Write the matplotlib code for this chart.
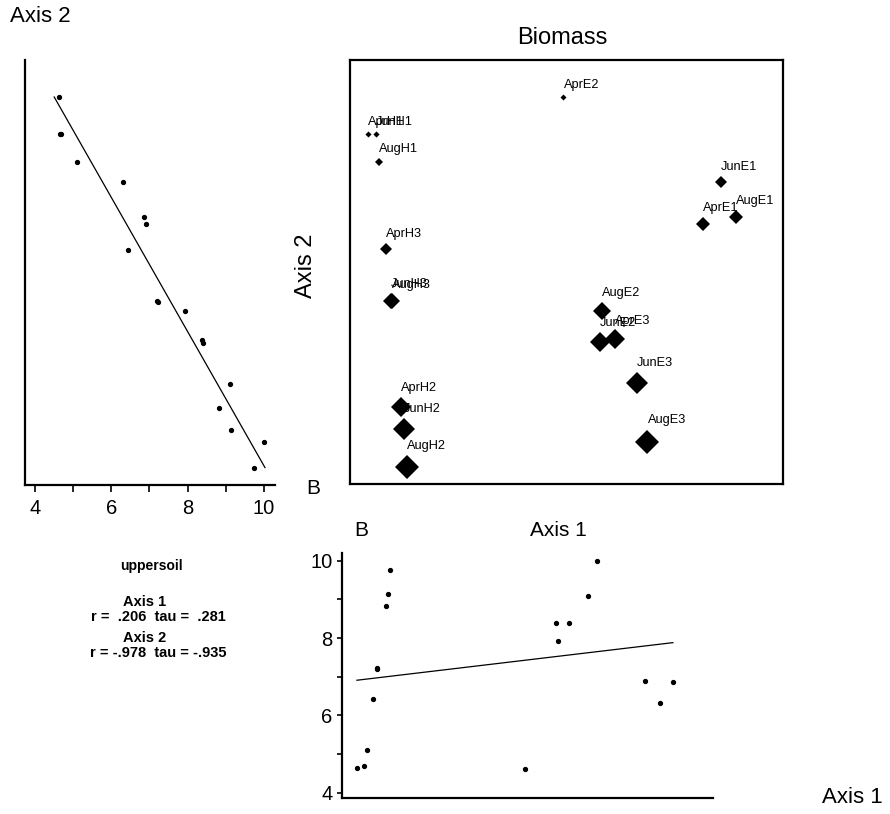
import numpy as np
import matplotlib
matplotlib.use('Agg')
from matplotlib import pyplot as plt
from matplotlib.ticker import MultipleLocator

plt.rcParams['font.family'] = ['Liberation Sans', 'DejaVu Sans']

# ordination scores (0-100 scale) and biomass for each sample
labels = ['AprE2', 'AprH1', 'JunH1', 'AugH1', 'JunE1', 'AugE1', 'AprE1', 'AprH3',
          'AugH3', 'JunH3', 'AugE2', 'AprE3', 'JunE2', 'JunE3', 'AprH2', 'JunH2',
          'AugE3', 'AugH2']
axis1 = [49.3, 4.1, 6.0, 6.8, 85.7, 89.2, 81.6, 8.3,
         9.6, 9.5, 58.3, 61.2, 57.7, 66.2, 11.8, 12.5,
         68.7, 13.1]
axis2 = [91.3, 82.6, 82.6, 75.9, 71.2, 63.0, 61.4, 55.4,
         43.1, 43.2, 40.9, 34.1, 33.5, 23.8, 18.1, 13.0,
         10.0, 4.1]
biomass = [4.62, 4.65, 4.68, 5.11, 6.32, 6.87, 6.90, 6.43,
           7.22, 7.20, 7.92, 8.38, 8.40, 9.10, 8.82, 9.15,
           9.99, 9.75]

stats_lines = ['Axis 1', 'r =  .206  tau =  .281', 'Axis 2', 'r = -.978  tau = -.935']

axis1 = np.array(axis1)
axis2 = np.array(axis2)
biomass = np.array(biomass)

W, H = 890, 814
fig = plt.figure(figsize=(W / 100, H / 100), dpi=100)


def rect(x0, y0, x1, y1):
    return [x0 / W, 1 - y1 / H, (x1 - x0) / W, (y1 - y0) / H]


def ftext(x, y, s, **kw):
    fig.text(x / W, 1 - y / H, s, ha='center', va='center', **kw)


spine_w = 1.6

# left panel: biomass vs Axis 2 (biomass regressed on the axis score)
axl = fig.add_axes(rect(25, 60, 275, 485))
axl.plot(biomass, axis2, 'o', color='black', ms=2.8)
c, d = np.polyfit(axis2, biomass, 1)
ys = np.array([axis2.min(), axis2.max()])
axl.plot(c * ys + d, ys, color='black', lw=0.9)
axl.set_xlim(3.74, 10.29)
axl.set_ylim(0, 100)
axl.xaxis.set_major_locator(MultipleLocator(2))
axl.xaxis.set_minor_locator(MultipleLocator(1))
axl.tick_params(axis='x', which='both', direction='out', length=5, width=1.2,
                labelsize=14.5, pad=5)
axl.set_yticks([])
for s in ['top', 'right']:
    axl.spines[s].set_visible(False)
for s in ['left', 'bottom']:
    axl.spines[s].set_linewidth(spine_w)

# biomass ordination plot
axb = fig.add_axes(rect(350, 60, 783, 484))
size_px = 6 + (biomass - biomass.min()) * 3.5
ms = size_px / 1.964
half_pt = 0.707 * ms
for x, y, m, h, lab in zip(axis1, axis2, ms, half_pt, labels):
    axb.plot(x, y, 'D', color='black', ms=m, mew=0)
    axb.annotate(lab, (x, y), xytext=(0, h + 4.3), textcoords='offset points',
                 ha='left', va='baseline', fontsize=9.2)
axb.set_xlim(0, 100)
axb.set_ylim(0, 100)
axb.set_xticks([])
axb.set_yticks([])
for s in axb.spines.values():
    s.set_linewidth(spine_w)

# bottom panel: Axis 1 vs biomass
axd = fig.add_axes(rect(341.7, 553, 713, 798.3))
axd.plot(axis1, biomass, 'o', color='black', ms=2.8)
k2, b2 = np.polyfit(axis1, biomass, 1)
xs2 = np.array([axis1.min(), axis1.max()])
axd.plot(xs2, k2 * xs2 + b2, color='black', lw=0.9)
axd.set_xlim(0, 100)
axd.set_ylim(3.855, 10.2)
axd.yaxis.set_major_locator(MultipleLocator(2))
axd.yaxis.set_minor_locator(MultipleLocator(1))
axd.tick_params(axis='y', which='both', direction='out', length=3.5, width=1.2,
                labelsize=14.5, pad=3)
axd.set_xticks([])
for s in ['top', 'right']:
    axd.spines[s].set_visible(False)
for s in ['left', 'bottom']:
    axd.spines[s].set_linewidth(spine_w)

# free text
ftext(40, 17, 'Axis 2', fontsize=16)
ftext(562, 38, 'Biomass', fontsize=17)
ftext(306, 266, 'Axis 2', fontsize=17, rotation=90)
ftext(313, 489, 'B', fontsize=15)
ftext(361.5, 530.5, 'B', fontsize=15)
ftext(558, 530.5, 'Axis 1', fontsize=15)
ftext(852, 797.5, 'Axis 1', fontsize=16)

ftext(151, 566, 'uppersoil', fontsize=10, fontweight='bold')
ftext(145, 602, stats_lines[0], fontsize=10.5, fontweight='bold')
ftext(158, 617, stats_lines[1], fontsize=10.5, fontweight='bold')
ftext(145, 638, stats_lines[2], fontsize=10.5, fontweight='bold')
ftext(158, 653, stats_lines[3], fontsize=10.5, fontweight='bold')

fig.savefig('out.png', dpi=100)
